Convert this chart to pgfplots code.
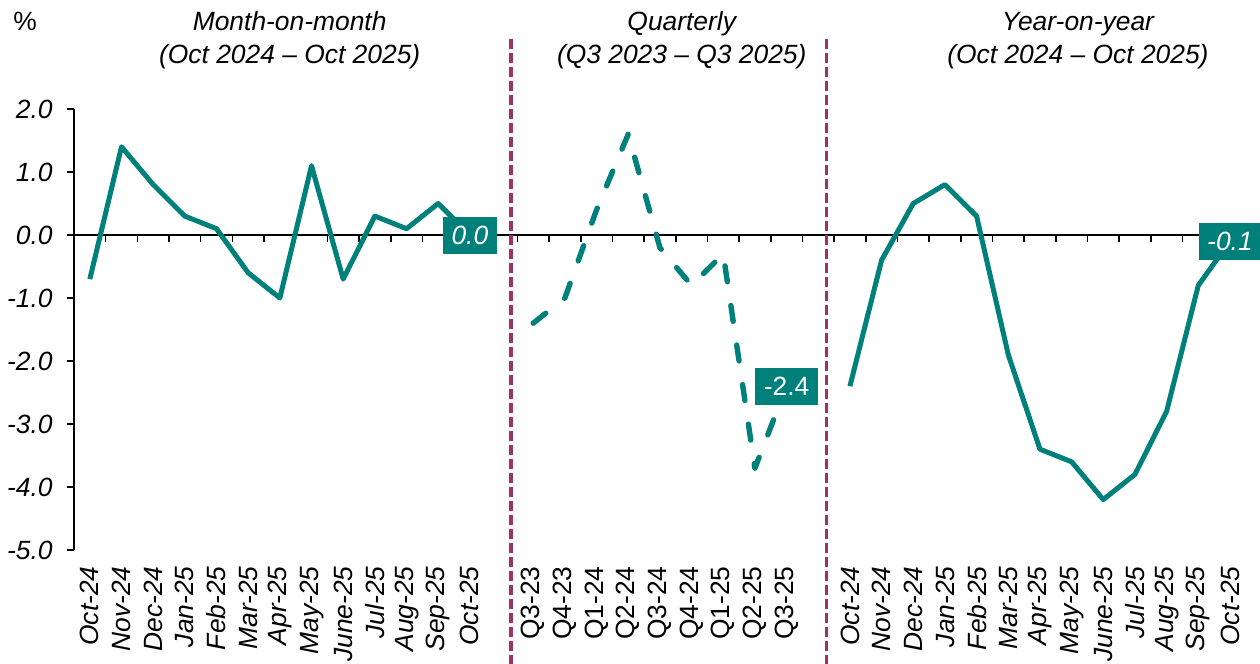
\documentclass[border=0pt]{standalone}
\usepackage{fontspec}
\setmainfont{Liberation Sans}
\usepackage{pgfplots}
\pgfplotsset{compat=1.18}
\definecolor{tealc}{RGB}{0,128,122}
\definecolor{plum}{RGB}{158,50,100}
\newcommand{\fs}{\fontsize{13.2}{15.8}\selectfont}
\begin{document}
\begin{tikzpicture}[font=\fs]
\path[use as bounding box] (-37pt,-57pt) rectangle (593pt,275pt);
% zero line with boundary ticks
\begin{axis}[
  at={(0,0)}, anchor=south west,
  scale only axis, width=585.9pt, height=220.5pt,
  xmin=-0.5, xmax=36.5, ymin=-5, ymax=2,
  axis x line*=middle, axis y line=none,
  x axis line style={line width=1pt},
  xtick={0.5,1.5,...,35.5}, xticklabels={},
  ytick=\empty,
  tick align=outside, major tick length=3.5pt,
  xtick style={line width=0.8pt, black},
]
\end{axis}
\begin{axis}[
  at={(0,0)}, anchor=south west,
  scale only axis, width=585.9pt, height=220.5pt,
  xmin=-0.5, xmax=36.5, ymin=-5, ymax=2,
  clip=false,
  axis y line*=left, axis x line*=bottom,
  x axis line style={draw=none},
  y axis line style={line width=0.65pt},
  ytick={-5,-4,...,2},
  yticklabels={\textit{-5.0},\textit{-4.0},\textit{-3.0},\textit{-2.0},\textit{-1.0},\textit{0.0},\textit{1.0},\textit{2.0}},
  tick align=outside, major tick length=3.5pt,
  ytick style={line width=0.65pt, black},
  xtick style={draw=none},
  yticklabel style={font=\fs, inner xsep=7pt, inner ysep=0pt, anchor=east},
  xtick={0,1,...,12,14,15,...,22,24,25,...,36},
  xticklabels={\textit{Oct-24},\textit{Nov-24},\textit{Dec-24},\textit{Jan-25},\textit{Feb-25},\textit{Mar-25},\textit{Apr-25},\textit{May-25},\textit{June-25},\textit{Jul-25},\textit{Aug-25},\textit{Sep-25},\textit{Oct-25},
    Q3-23,Q4-23,Q1-24,Q2-24,Q3-24,Q4-24,Q1-25,Q2-25,Q3-25,
    \textit{Oct-24},\textit{Nov-24},\textit{Dec-24},\textit{Jan-25},\textit{Feb-25},\textit{Mar-25},\textit{Apr-25},\textit{May-25},\textit{June-25},\textit{Jul-25},\textit{Aug-25},\textit{Sep-25},\textit{Oct-25}},
  xticklabel style={font=\fs, rotate=90, anchor=east, inner xsep=4.5pt, inner ysep=0pt},
]
% separators
\addplot[plum, line width=1.9pt, dash pattern=on 5pt off 2pt] coordinates {(13.31,3.11) (13.31,-6.81)};
\addplot[plum, line width=1.9pt, dash pattern=on 5pt off 2pt] coordinates {(23.26,3.11) (23.26,-6.81)};
% month-on-month
\addplot[tealc, line width=2.5pt, line join=round] coordinates {
 (0,-0.7) (1,1.4) (2,0.8) (3,0.3) (4,0.1) (5,-0.6) (6,-1.0) (7,1.1) (8,-0.7) (9,0.3) (10,0.1) (11,0.5) (12,0.0)};
% quarterly
\addplot[tealc, line width=2.7pt, line cap=round, line join=round, dash pattern=on 8pt off 12pt] coordinates {
 (14,-1.4) (15,-1.0) (16,0.4) (17,1.6) (18,-0.2) (19,-0.8) (20,-0.3) (21,-3.7) (22,-2.4)};
% year-on-year
\addplot[tealc, line width=2.5pt, line join=round] coordinates {
 (24,-2.4) (25,-0.4) (26,0.5) (27,0.8) (28,0.3) (29,-1.9) (30,-3.4) (31,-3.6) (32,-4.2) (33,-3.8) (34,-2.8) (35,-0.8) (36,-0.1)};
% data labels
\addplot[draw=none, nodes near coords, point meta=explicit symbolic,
  nodes near coords style={anchor=center, fill=tealc, text=white, inner xsep=4.2pt, inner ysep=0pt, minimum height=18.5pt, font=\fs\itshape}]
  coordinates {(12,0) [0.0] (36,-0.1) [-0.1]};
\addplot[draw=none, nodes near coords, point meta=explicit symbolic,
  nodes near coords style={anchor=center, fill=tealc, text=white, inner xsep=4.2pt, inner ysep=0pt, minimum height=18.5pt, font=\fs}]
  coordinates {(22,-2.4) [-2.4]};
% titles
\node[anchor=base west, inner sep=0pt] at (axis cs:-2.43,3.254) {\%};
\node[anchor=base, inner sep=0pt] at (axis cs:6.31,3.254) {\itshape Month-on-month};
\node[anchor=base, inner sep=0pt] at (axis cs:6.31,2.730) {\itshape (Oct 2024 -- Oct 2025)};
\node[anchor=base, inner sep=0pt] at (axis cs:18.69,3.254) {\itshape Quarterly};
\node[anchor=base, inner sep=0pt] at (axis cs:18.69,2.730) {\itshape (Q3 2023 -- Q3 2025)};
\node[anchor=base, inner sep=0pt] at (axis cs:31.2,3.254) {\itshape Year-on-year};
\node[anchor=base, inner sep=0pt] at (axis cs:31.2,2.730) {\itshape (Oct 2024 -- Oct 2025)};
\end{axis}
\end{tikzpicture}
\end{document}
